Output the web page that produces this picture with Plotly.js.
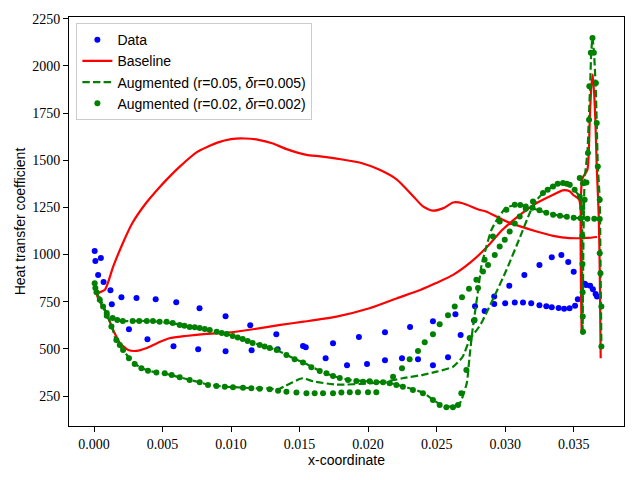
<!DOCTYPE html>
<html>
<head>
<meta charset="utf-8">
<script src="https://cdn.plot.ly/plotly-3.0.1.min.js"></script>
<style>html,body{margin:0;padding:0;background:#fff;}#chart{width:640px;height:480px;}</style>
</head>
<body>
<div id="chart"></div>
<script>
// ---- Data ----
const dataX = [0.00005,0.0001,0.0005,0.0003,0.0007,0.0012,0.0013,0.0020,0.0031,0.0045,0.0060,0.0077,0.0096,0.0114,0.0133,
  0.00255,0.0039,0.0058,0.0076,0.0096,0.0115,0.0134,0.01525,0.01545,0.0169,0.01846,0.01992,0.02123,0.02247,0.02364,0.02473,
  0.02583,0.02675,0.02773,0.0285,0.0292,0.0300,0.0307,0.0313,0.0319,0.0325,0.0330,0.0334,0.0339,0.0343,0.0347,0.0351,0.0353,
  0.0358,0.0359,0.0362,0.0364,0.0366,0.0367,
  0.01744,0.01933,0.02123,0.02306,0.02473,0.02637,0.0278,0.0292,0.0303,0.0314,0.0325,0.0334,0.0341,0.0346,0.0350];
const dataY = [1018,965,981,891,854,811,737,774,769,763,747,715,673,625,577,
  604,551,514,498,487,493,498,515,508,450,413,420,439,450,445,413,
  455,574,650,700,738,742,745,745,742,731,726,721,716,712,715,728,763,
  845,839,834,816,791,777,
  530,563,588,616,646,684,726,777,835,892,945,986,998,960,908];

const baseX = [0.0367,0.0360,0.0347,0.0335,0.0323,0.0311,0.0301,0.0286,0.0281,0.0269,0.0262,0.0255,0.0247,0.0240,0.0233,0.0221,0.0208,
  0.0195,0.0180,0.0165,0.0155,0.0140,0.0130,0.0120,0.0110,0.0100,0.0090,0.0075,0.0062,0.0053,0.0048,0.0038,0.0028,0.0021,0.0014,0.0008,0.0002,
  0.0009,0.0014,0.0019,0.0025,0.0031,0.0038,0.0046,0.0055,0.0067,0.0082,0.0097,0.0116,0.0136,0.0153,0.0177,0.0201,0.0221,0.0238,0.0250,
  0.0262,0.0274,0.0286,0.0298,0.0311,0.0323,0.0335,0.0342,0.0347,0.03495,0.0354,
  0.03558,0.03558,0.03562,0.0360,0.03617,0.03629,0.0364,0.03658,0.03668,0.03683,0.0369,0.03697];
const baseY = [1093,1088,1087,1099,1122,1149,1175,1228,1237,1272,1276,1246,1233,1255,1308,1397,1450,
  1485,1505,1520,1528,1560,1590,1608,1615,1612,1593,1543,1462,1397,1358,1273,1167,1060,936,813,790,
  689,600,530,494,489,503,530,556,568,579,586,604,627,644,671,715,768,812,850,
  892,954,1034,1131,1211,1273,1317,1340,1335,1317,1290,
  900,584,1400,1450,1715,1892,1955,1715,1467,1200,919,450];

const aug05X = [0.0369,0.0360,0.0350,0.0340,0.0330,0.0320,0.0310,0.0301,0.02945,0.0290,0.02863,0.02826,0.0280,0.02762,0.0274,0.0272,0.0267,
  0.0262,0.0257,0.0252,0.0247,0.0240,0.0233,0.0225,0.0216,0.0205,0.0195,0.0185,0.0175,0.0165,0.0155,0.0145,0.0133,0.0121,0.0109,0.0097,
  0.0084,0.0070,0.0060,0.0048,0.0035,0.0021,0.0014,0.0009,0.0004,0.0001,
  0.0002,0.0007,0.0013,0.0016,0.0021,0.0026,0.0030,0.0035,0.0040,0.0046,0.0052,0.0062,0.0070,0.0077,0.0083,0.0095,0.0109,0.0121,0.0128,
  0.0134,0.0140,0.0150,0.01525,0.0160,0.0177,0.0201,0.0213,0.0225,0.0240,0.0250,0.0262,0.0269,0.0274,0.0281,0.02838,0.0292,0.0301,0.0311,
  0.0318,0.0323,0.0330,0.0338,0.0343,0.0348,0.0353,0.03555,0.03562,0.03565,0.0357,0.0358,0.0360,0.0361,0.0362,0.03628,0.03637,0.03648,
  0.0366,0.03668,0.03676,0.0369,0.03695,0.03698,0.03702];
const aug05Y = [1192,1190,1195,1205,1222,1245,1262,1250,1190,1131,1042,936,797,600,458,319,213,
  195,195,208,232,268,285,302,318,325,330,337,355,382,420,452,494,520,552,579,
  600,616,632,643,648,648,664,690,760,830,
  810,724,618,547,494,450,420,397,384,374,368,350,335,323,310,300,294,290,290,
  284,305,340,344,328,310,317,326,344,362,379,405,458,547,617,653,777,919,1095,
  1221,1290,1340,1370,1375,1360,1320,1290,900,574,1000,1400,1540,1715,1900,2070,2150,2070,
  1900,1700,1470,1290,1000,800,520];

const aug02X = [0.00005,0.0001,0.00018,0.00042,0.00093,0.00136,0.0017,0.0021,0.00282,0.0033,0.00385,0.0043,0.00479,0.0053,0.00574,0.00625,
  0.0066,0.00698,0.00735,0.00771,0.00808,0.00844,0.00895,0.00932,0.00968,0.01012,0.01049,0.01085,0.01121,0.01158,0.01209,0.01245,0.01282,
  0.01333,0.01404,0.01464,0.01525,0.01586,0.01647,0.01696,0.01744,0.01793,0.01853,0.01914,0.01963,0.02011,0.0206,0.02109,0.02157,0.02206,
  0.02254,0.02327,0.024,0.02473,0.02522,0.02571,0.02619,0.02656,0.0268,0.02717,0.02741,0.02777,0.02802,0.0285,0.02911,0.0296,0.03009,0.0307,
  0.0311,0.0315,0.0320,0.0325,0.0330,0.0335,0.0340,0.0345,0.0350,0.0355,0.0360,0.0365,0.0369,
  0.00066,0.00093,0.00127,0.00163,0.00188,0.00212,0.00255,0.00297,0.00346,0.00394,0.00455,0.00516,0.00567,0.00625,0.00698,0.00771,0.00832,
  0.00893,0.00954,0.01014,0.01087,0.01148,0.01209,0.01282,0.01343,0.01404,0.01477,0.0155,0.0161,0.01671,0.01744,0.01805,0.01866,0.01926,
  0.01999,0.0206,0.02182,0.02247,0.02303,0.02364,0.02413,0.02473,0.02522,0.02583,0.02632,0.02685,0.02736,0.0279,0.02838,0.02875,0.02924,
  0.0296,0.02997,0.03033,0.0307,0.03106,0.0315,0.03203,0.03276,0.0331,0.03349,0.03383,0.03422,0.03449,0.03471,0.03507,0.03544,
  0.03544,0.03568,0.03593,0.03580,0.03563,0.03563,0.03564,0.03565,0.03566,0.03568,
  0.03637,0.03625,0.03647,0.03614,0.03662,0.03612,0.03668,0.03604,0.03676,0.0369,0.0369,0.03695,0.03702,0.03702];
const aug02Y = [848,823,800,760,690,664,653,648,648,648,648,648,643,643,637,627,
  622,616,614,611,605,600,590,584,579,568,560,552,542,531,520,513,505,
  494,468,445,427,402,383,370,356,345,335,330,326,328,323,323,317,308,
  299,282,264,229,202,190,190,202,264,388,558,653,823,972,1095,1175,1237,1264,
  1262,1255,1248,1235,1222,1211,1205,1200,1195,1192,1190,1190,1188,
  724,675,618,547,521,494,450,420,397,384,374,370,361,349,335,323,308,
  303,299,296,294,291,289,286,278,273,268,264,264,264,264,268,270,270,
  270,270,352,397,445,489,535,577,630,678,724,774,818,866,910,945,998,
  1042,1078,1122,1165,1202,1243,1281,1326,1343,1361,1375,1379,1375,1370,1343,1308,
  1405,1378,1382,1290,1246,1100,950,800,671,591,
  2148,2069,2069,1892,1909,1715,1697,1538,1467,1290,1007,901,724,512];

const xTickVals = [0,0.005,0.01,0.015,0.02,0.025,0.03,0.035];
const yTickVals = [250,500,750,1000,1250,1500,1750,2000,2250];
const legendNames = ["Data","Baseline","Augmented (r=0.05, <i>δ</i>r=0.005)","Augmented (r=0.02, <i>δ</i>r=0.002)"];

// ---- Traces ----
const traces = [
  {x: dataX, y: dataY, name: legendNames[0], type: 'scatter', mode: 'markers',
   marker: {color: '#0000ff', size: 6}},
  {x: baseX, y: baseY, name: legendNames[1], type: 'scatter', mode: 'lines',
   line: {color: '#ff0000', width: 2.2, shape: 'spline', smoothing: 0.6}},
  {x: aug05X, y: aug05Y, name: legendNames[2], type: 'scatter', mode: 'lines',
   line: {color: '#008000', width: 2.2, dash: '7.4px,3.2px', shape: 'spline', smoothing: 0.5}},
  {x: aug02X, y: aug02Y, name: legendNames[3], type: 'scatter', mode: 'markers',
   marker: {color: '#008000', size: 6}}
];

const serif = 'Liberation Serif, DejaVu Serif, serif';
const sans = 'Liberation Sans, DejaVu Sans, sans-serif';

const layout = {
  width: 640, height: 480,
  margin: {l: 69, r: 16, t: 17, b: 54, pad: 0},
  paper_bgcolor: '#ffffff', plot_bgcolor: '#ffffff',
  showlegend: true,
  legend: {x: 0.0133, y: 0.985, xanchor: 'left', yanchor: 'top',
    bgcolor: 'rgba(255,255,255,0.8)', bordercolor: '#cccccc', borderwidth: 1,
    font: {family: sans, size: 14, color: '#000'}, tracegroupgap: 0},
  xaxis: {range: [-0.001824, 0.03867], tickvals: xTickVals, tickformat: '.3f',
    showgrid: false, zeroline: false, showline: true, linecolor: '#000', linewidth: 1, mirror: true,
    ticks: 'outside', ticklen: 5, tickwidth: 1, tickcolor: '#000',
    tickfont: {family: serif, size: 14, color: '#000'},
    title: {text: 'x-coordinate', font: {family: sans, size: 14, color: '#000'}, standoff: 2}},
  yaxis: {range: [91, 2259], tickvals: yTickVals,
    showgrid: false, zeroline: false, showline: true, linecolor: '#000', linewidth: 1, mirror: true,
    ticks: 'outside', ticklen: 5, tickwidth: 1, tickcolor: '#000',
    tickfont: {family: serif, size: 14, color: '#000'},
    title: {text: 'Heat transfer coefficient', font: {family: sans, size: 14, color: '#000'}, standoff: 3}}
};

Plotly.newPlot('chart', traces, layout, {staticPlot: true, displayModeBar: false});
</script>
</body>
</html>
